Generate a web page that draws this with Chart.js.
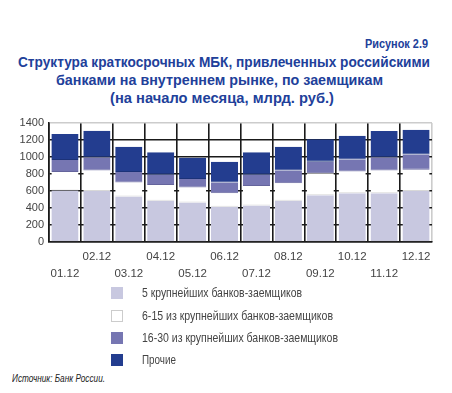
<!DOCTYPE html>
<html>
<head>
<meta charset="utf-8">
<script src="https://cdn.jsdelivr.net/npm/chart.js@4/dist/chart.umd.min.js"></script>
<style>
  html, body { margin:0; padding:0; background:#fff; }
  body { width:452px; height:393px; position:relative; overflow:hidden; font-family:"Liberation Sans", Arial, sans-serif; }
  .fit { position:absolute; white-space:nowrap; display:inline-block; line-height:1; }
  .t { font-size:15.5px; font-weight:bold; color:#21409a; }
  #wrap { position:absolute; left:0; top:0; width:452px; height:290px; }
  .lt { font-size:13.5px; color:#444; }
  .box { position:absolute; left:111px; width:12px; height:12px; box-sizing:border-box; }
  #src { font-size:11.5px; font-style:italic; color:#222; }
</style>
</head>
<body>
<span class="fit t" data-x="365" data-w="63" data-y="44" style="font-size:12px">Рисунок 2.9</span>
<span class="fit t" data-x="18" data-w="412" data-y="62">Структура краткосрочных МБК, привлеченных российскими</span>
<span class="fit t" data-x="56" data-w="327" data-y="80">банками на внутреннем рынке, по заемщикам</span>
<span class="fit t" data-x="110" data-w="224" data-y="98">(на начало месяца, млрд. руб.)</span>
<div id="wrap"><canvas id="c"></canvas></div>
<div id="legend"></div>
<span class="fit" id="src" data-x="12" data-w="93" data-y="379">Источник: Банк России.</span>
<script>
const categories = ['01.12','02.12','03.12','04.12','05.12','06.12','07.12','08.12','09.12','10.12','11.12','12.12'];
const top5      = [605, 600, 535, 485, 465, 415, 430, 485, 550, 575, 575, 600];
const top6_15   = [220, 240, 165, 185, 175, 160, 230, 205, 260, 255, 265, 250];
const top16_30  = [140, 155, 125, 120, 100, 125, 130, 150, 135, 140, 155, 180];
const others    = [305, 315, 295, 265, 250, 245, 265, 280, 265, 280, 310, 290];
const seriesNames = ['5 крупнейших банков-заемщиков','6-15 из крупнейших банков-заемщиков','16-30 из крупнейших банков-заемщиков','Прочие'];
const seriesColors = ['#c8c8e0','#ffffff','#7676b2','#233d8f'];
const seriesBorders = ['#b4b4cc','#d8d8d8','#64649c','#1c3278'];
const yTicks = [0,200,400,600,800,1000,1200,1400];

// legend (layout only)
const legRows = [293, 316, 338, 360];
const legWidths = [160, 191, 196, 34];
const leg = document.getElementById('legend');
seriesNames.forEach((n,i)=>{
  const b = document.createElement('div'); b.className='box';
  b.style.top = (legRows[i]-6)+'px';
  b.style.background = seriesColors[i];
  b.style.border = i===1 ? '1px solid #ccc' : '0';
  leg.appendChild(b);
  const t = document.createElement('span'); t.className='fit lt'; t.textContent = n;
  t.dataset.x = 142; t.dataset.w = legWidths[i]; t.dataset.y = legRows[i];
  leg.appendChild(t);
});

// fit text spans to reference widths
document.querySelectorAll('.fit').forEach(el=>{
  const r = el.getBoundingClientRect();
  const s = (+el.dataset.w)/r.width;
  el.style.left = el.dataset.x+'px';
  el.style.top = (+el.dataset.y - r.height/2)+'px';
  el.style.transformOrigin = '0 50%';
  el.style.transform = 'scaleX('+s+')';
});

const seriesData = [top5, top6_15, top16_30, others];
const datasets = seriesData.map((d,i)=>({
  label: seriesNames[i], data: d, backgroundColor: seriesColors[i],
  borderColor: seriesBorders[i], borderWidth: {bottom:1, right:0, left:0, top:0}, borderSkipped: false,
  categoryPercentage: 1.0, barPercentage: 0.85
}));

const font = {family:'"Liberation Sans", Arial, sans-serif'};
new Chart(document.getElementById('c'), {
  type:'bar',
  data:{ labels: categories, datasets },
  options:{
    responsive:true, maintainAspectRatio:false, animation:false,
    layout:{ padding:{ left:0, right:20, top:123, bottom:0 } },
    plugins:{ legend:{display:false}, title:{display:false}, tooltip:{enabled:false} },
    scales:{
      x:{
        stacked:true,
        grid:{ offset:true, drawTicks:false, lineWidth:1.6, color:(c)=> c.tick ? '#1a1a1a' : '#cccccc' },
        border:{ display:true, color:'#1a1a1a', width:1.6 },
        ticks:{ autoSkip:false, maxRotation:0, padding:6, color:'#444',
          font:{...font, size:11.5, lineHeight:1.5},
          callback:(v,i)=> i%2===0 ? ['', categories[i]] : [categories[i], ''] },
        afterFit:(s)=>{ s.height = 48; }
      },
      y:{
        stacked:true, min:0, max:1400,
        afterBuildTicks:(s)=>{ s.ticks = yTicks.map(v=>({value:v})); },
        grid:{ drawTicks:false, lineWidth:1.6, color:(c)=> (c.tick && c.tick.value===1400) ? '#cccccc' : '#1a1a1a' },
        border:{ display:true, color:'#1a1a1a', width:1.6 },
        ticks:{ autoSkip:false, padding:5, color:'#444', font:{...font, size:11},
          callback:(v)=> String(v) },
        afterFit:(s)=>{ s.width = 49; }
      }
    }
  }
});
</script>
</body>
</html>
